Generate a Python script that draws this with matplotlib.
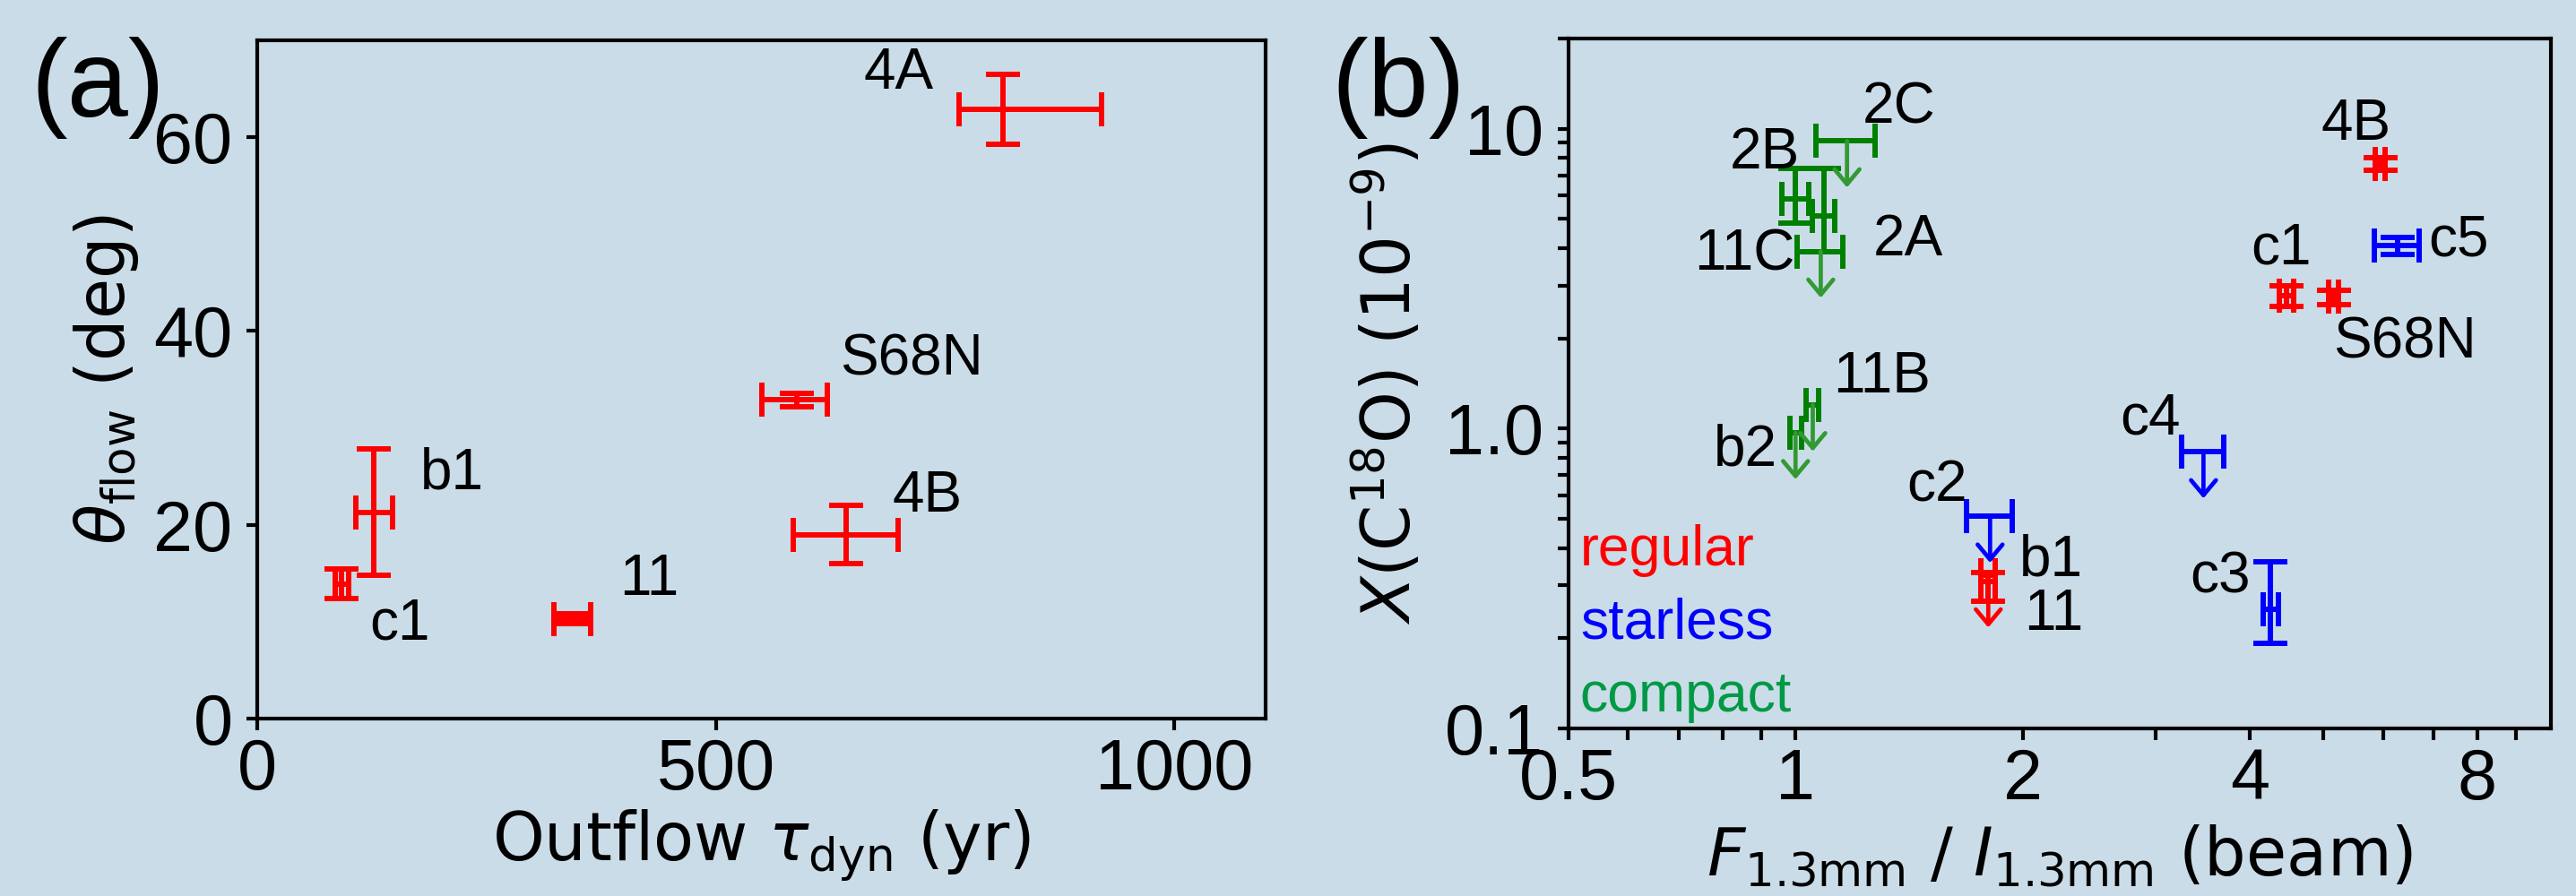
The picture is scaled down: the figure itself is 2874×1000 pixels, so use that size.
#!/usr/bin/env python

######################################################################
## Create plots without X

import matplotlib
matplotlib.use('Agg')

######################################################################

import numpy as np
import matplotlib.pyplot as plt
from matplotlib.ticker import FixedLocator, FixedFormatter, LogLocator, NullFormatter

######################################################################
## STYLE

plt.rcParams['font.family'] = ['Liberation Sans', 'DejaVu Sans']
plt.rcParams['mathtext.fontset'] = 'dejavusans'

BG = '#cadce8'
TICK_SIZE = 57
LABEL_SIZE = 53
NAME_SIZE = 46
LEG_SIZE = 45
CAP = 13.5
ELW = 4.3
ARROW_DEX = 0.155   # length of upper-limit arrows (dex)

######################################################################
## DATA, panel (a)

a_names = ['4A', 'S68N', 'b1', '4B', '11', 'c1']
a_tdyn = [813, 588, 127, 642, 343, 92]
a_tdyn_lo = [48, 38, 20, 57, 20, 7]
a_tdyn_hi = [108, 34, 20, 57, 20, 7]
a_theta = [62.9, 32.9, 21.3, 19.0, 10.3, 13.9]
a_theta_err = [3.6, 0.7, 6.5, 3.0, 0.5, 1.5]
a_name_x = [700, 714, 212, 731, 427, 155]
a_name_y = [66.6, 37.0, 25.3, 22.9, 14.3, 9.8]

## DATA, panel (b)

b_names = ['4B', 'c1', 'S68N', 'b1', '11',
           'c5', 'c4', 'c3', 'c2',
           '2C', '2B', '2A', '11C', '11B', 'b2']
b_type = ['regular'] * 5 + ['starless'] * 4 + ['compact'] * 6
b_ratio = [5.95, 4.47, 5.16, 1.80, 1.80,
           6.27, 3.47, 4.26, 1.81,
           1.17, 1.00, 1.09, 1.08, 1.054, 1.00]
b_ratio_err = [0.09, 0.10, 0.08, 0.04, 0.04,
               0.42, 0.22, 0.10, 0.125,
               0.105, 0.04, 0.037, 0.076, 0.02, 0.018]
b_x18 = [7.62, 2.77, 2.75, 0.325, 0.31,
         4.07, 0.836, 0.25, 0.51,
         9.1, 5.82, 5.13, 3.90, 1.20, 0.968]
b_x18_lo = [0.37, 0.22, 0.15, 0.06, 0,
            0.27, 0, 0.058, 0,
            0, 0.97, 1.23, 0, 0, 0]
b_x18_hi = [0.37, 0.22, 0.15, 0.005, 0,
            0.27, 0, 0.11, 0,
            0, 1.56, 2.25, 0, 0, 0]
b_uplim = [False, False, False, False, True,
           False, True, False, True,
           True, False, False, True, True, True]
b_name_x = [5.53, 4.40, 6.42, 2.18, 2.20,
            7.55, 2.95, 3.65, 1.54,
            1.37, 0.911, 1.41, 0.856, 1.30, 0.859]
b_name_y = [10.3, 3.97, 1.93, 0.364, 0.240,
            4.24, 1.08, 0.319, 0.644,
            11.75, 8.27, 4.24, 3.80, 1.48, 0.846]

legend_names = ['regular', 'starless', 'compact']
ebar_colors = {'regular': '#ff0000', 'starless': '#0000ff', 'compact': '#008000'}
arrow_colors = {'regular': '#ff0000', 'starless': '#0000ff', 'compact': '#339933'}
legend_colors = {'regular': '#ff0000', 'starless': '#0000ff', 'compact': '#009944'}

######################################################################

fig = plt.figure(figsize=(28.74, 10), dpi=100)
fig.patch.set_facecolor(BG)

ax1 = fig.add_axes([0.1000, 0.198, 0.3913, 0.757])
ax2 = fig.add_axes([0.6088, 0.187, 0.3813, 0.770])

for ax in (ax1, ax2):
    ax.set_facecolor(BG)
    for s in ax.spines.values():
        s.set_linewidth(3)
    ax.tick_params(which='both', direction='out', length=9, width=3,
                   labelsize=TICK_SIZE)
    ax.tick_params(axis='x', which='both', pad=6)
    ax.tick_params(axis='y', which='both', pad=11)

# (a) ---------------------------------------------------------------
ax1.errorbar(a_tdyn, a_theta, xerr=[a_tdyn_lo, a_tdyn_hi], yerr=a_theta_err,
             fmt='none', ecolor='#ff0000', elinewidth=ELW, capsize=CAP,
             capthick=ELW)
for n, x, y in zip(a_names, a_name_x, a_name_y):
    ax1.text(x, y, n, fontsize=NAME_SIZE, ha='center', va='center')

ax1.set_xlim(0, 1100)
ax1.set_ylim(0, 70)
ax1.set_xticks([0, 500, 1000])
ax1.set_yticks([0, 20, 40, 60])
ax1.set_xlabel(r'Outflow $\tau_{\rm dyn}$ (yr)', fontsize=LABEL_SIZE,
               family='DejaVu Sans')
ax1.set_ylabel(r'$\theta_{\rm flow}$ (deg)', fontsize=LABEL_SIZE,
               family='DejaVu Sans')
ax1.xaxis.set_label_coords(0.5, -0.132)
ax1.yaxis.set_label_coords(-0.116, 0.5)

# (b) ---------------------------------------------------------------
ax2.set_xscale('log')
ax2.set_yscale('log')
for i in range(len(b_names)):
    t = b_type[i]
    x, y = b_ratio[i], b_x18[i]
    if b_uplim[i]:
        ax2.errorbar([x], [y], xerr=[b_ratio_err[i]], fmt='none',
                     ecolor=ebar_colors[t], elinewidth=ELW, capsize=CAP,
                     capthick=ELW)
        ax2.annotate('', xy=(x, y * 10 ** -ARROW_DEX), xytext=(x, y),
                     arrowprops=dict(arrowstyle='->,head_length=0.6,head_width=0.5',
                                     color=arrow_colors[t], lw=3.4,
                                     shrinkA=0, shrinkB=0, mutation_scale=20))
    else:
        ax2.errorbar([x], [y], xerr=[b_ratio_err[i]],
                     yerr=[[b_x18_lo[i]], [b_x18_hi[i]]], fmt='none',
                     ecolor=ebar_colors[t], elinewidth=ELW, capsize=CAP,
                     capthick=ELW)
for n, x, y in zip(b_names, b_name_x, b_name_y):
    ax2.text(x, y, n, fontsize=NAME_SIZE, ha='center', va='center')

for k, name in enumerate(legend_names):
    ax2.text(0.012, 0.236 - 0.1055 * k, name, transform=ax2.transAxes,
             color=legend_colors[name], fontsize=LEG_SIZE, ha='left',
             va='baseline')

ax2.set_xlim(0.5, 10)
ax2.set_ylim(0.1, 20)
ax2.xaxis.set_major_locator(FixedLocator([0.5, 1, 2, 4, 8]))
ax2.xaxis.set_major_formatter(FixedFormatter(['0.5', '1', '2', '4', '8']))
ax2.xaxis.set_minor_locator(FixedLocator([0.6, 0.7, 0.8, 0.9, 3, 5, 6, 7, 9]))
ax2.xaxis.set_minor_formatter(NullFormatter())
ax2.yaxis.set_major_locator(FixedLocator([0.1, 1, 10]))
ax2.yaxis.set_major_formatter(FixedFormatter(['0.1', '1.0', '10']))
ax2.yaxis.set_minor_locator(LogLocator(base=10, subs=np.arange(2, 10)))
ax2.yaxis.set_minor_formatter(NullFormatter())
ax2.set_xlabel(r'$F_{\rm 1.3mm}$ / $I_{\rm 1.3mm}$ (beam)', fontsize=LABEL_SIZE,
               family='DejaVu Sans')
ax2.set_ylabel(r'$X$(C$^{18}$O) (10$^{-9}$)', fontsize=LABEL_SIZE,
               family='DejaVu Sans')
ax2.xaxis.set_label_coords(0.5, -0.139)
ax2.yaxis.set_label_coords(-0.146, 0.5)

# Panel letters
fig.text(0.038, 0.902, '(a)', fontsize=88, ha='center', va='center')
fig.text(0.543, 0.902, '(b)', fontsize=88, ha='center', va='center')

plt.savefig('out.png', dpi=100, facecolor=BG)
